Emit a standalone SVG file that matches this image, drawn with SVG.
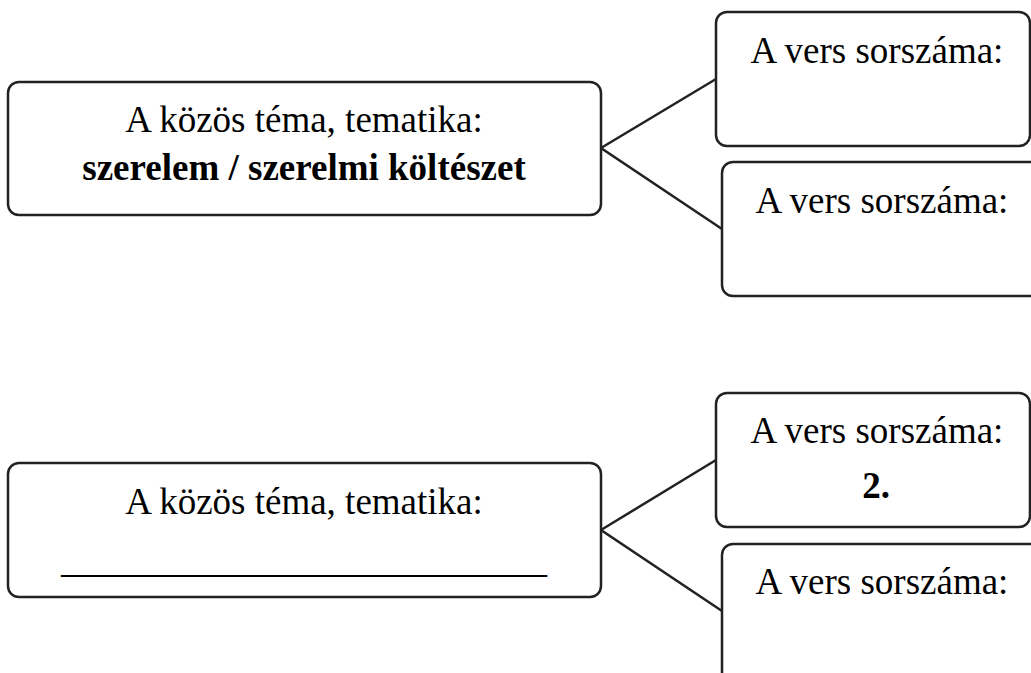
<svg xmlns="http://www.w3.org/2000/svg" width="1031" height="673" viewBox="0 0 1031 673">
<style>
.box{fill:#fff;stroke:#222;stroke-width:2.5}
.con{fill:none;stroke:#222;stroke-width:2.5}
.t{font-family:"Liberation Serif","Times New Roman",serif;font-size:37px;fill:#000;text-anchor:middle}
.b{font-weight:bold}
</style>
<rect width="1031" height="673" fill="#fff"/>
<g id="connectors">
<polyline class="con" points="716,79 601,148 722,229"/>
<polyline class="con" points="716,460 601,530 722,611"/>
</g>
<g id="theme1">
<rect class="box" x="8" y="82" width="593" height="133" rx="11"/>
<text class="t" x="304" y="132">A közös téma, tematika:</text>
<text class="t b" x="304" y="180">szerelem / szerelmi költészet</text>
</g>
<g id="poem1a">
<rect class="box" x="716" y="12" width="314" height="134" rx="11"/>
<text class="t" x="877" y="63">A vers sorszáma:</text>
</g>
<g id="poem1b">
<rect class="box" x="722" y="162" width="330" height="134" rx="11"/>
<text class="t" x="882" y="213">A vers sorszáma:</text>
</g>
<g id="theme2">
<rect class="box" x="8" y="463" width="593" height="134" rx="11"/>
<text class="t" x="304" y="514">A közös téma, tematika:</text>
<text class="t" x="304" y="572" textLength="486" lengthAdjust="spacingAndGlyphs">__________________________</text>
</g>
<g id="poem2a">
<rect class="box" x="716" y="393" width="314" height="134" rx="11"/>
<text class="t" x="877" y="443">A vers sorszáma:</text>
<text class="t b" x="876" y="498">2.</text>
</g>
<g id="poem2b">
<rect class="box" x="722" y="544" width="330" height="160" rx="11"/>
<text class="t" x="882" y="594">A vers sorszáma:</text>
</g>
</svg>
